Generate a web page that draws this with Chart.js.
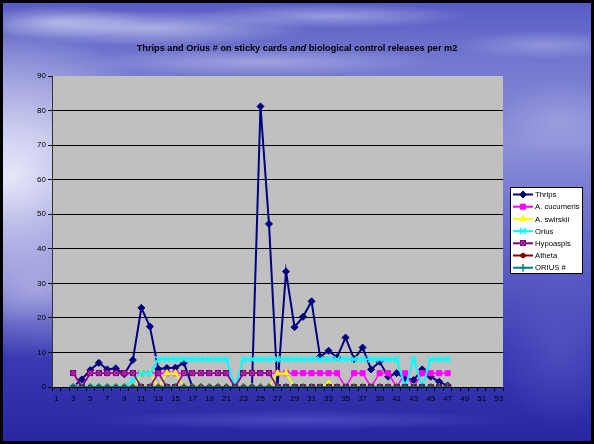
<!DOCTYPE html>
<html>
<head>
<meta charset="utf-8">
<script src="https://cdn.jsdelivr.net/npm/chart.js@4.4.1/dist/chart.umd.min.js"></script>
<style>
  html, body { margin: 0; padding: 0; overflow: hidden; background: #2a2aa0; }
  #wrap { width: 594px; height: 444px; position: relative; }
  canvas { display: block; }
</style>
</head>
<body>
<div id="wrap"><canvas id="c" width="594" height="444"></canvas></div>
<script>
// Week numbers on the category axis
const weeks = ['1','2','3','4','5','6','7','8','9','10','11','12','13','14','15','16','17','18','19','20',
  '21','22','23','24','25','26','27','28','29','30','31','32','33','34','35','36','37','38','39','40',
  '41','42','43','44','45','46','47','48','49','50','51','52','53'];

// Sticky-card counts and releases per m2, one entry per week (null = no record)
const thrips = [null, null, 0, 2.2, 4.9, 7, 5.1, 5.4, 3.7, 7.8, 22.9, 17.5, 5.2, 5.5, 5.6, 7, 0, 0, 0, 0,
  0, 0, 0, 0, 81.2, 47.2, 0, 33.4, 17.3, 20.3, 24.8, 8.8, 10.5, 8.6, 14.3, 8.1, 11.4, 5.1, 7.3, 3,
  4, 2.5, 2, 5.1, 3, 1.5, 0.4, null, null, null, null, null, null];
const cucumeris = [null, null, 4, 0, 4, 4, 4, 4, 4, 4, 4, 4, 4, 4, 4, 4, 4, 4, 4, 4,
  4, 0, 4, 4, 4, 4, 4, 4, 4, 4, 4, 4, 4, 4, 0, 4, 4, 0, 4, 4,
  0, 4, 0, 4, 4, 4, 4, null, null, null, null, null, null];
const swirskii = [null, null, 0, 0, 0, 0, 0, 0, 0, 0, 4, 4, 0, 4, 4, 0, 0, 0, 0, 0,
  0, 0, 0, 0, 0, 0, 4, 4, 0, 0, 0, 0, 1, 0, 0, 0, 0, 0, 0, 0,
  0, 0, 0, 0, 0, 0, 0, null, null, null, null, null, null];
const orius = [null, null, 0, 0, 0, 0, 0, 0, 0, 2, 4, 4, 8, 8, 8, 8, 8, 8, 8, 8,
  8, 0, 8, 8, 8, 8, 8, 8, 8, 8, 8, 8, 8, 8, 8, 8, 8, 8, 8, 8,
  8, 0, 8, 0, 8, 8, 8, null, null, null, null, null, null];
const hypoaspis = [null, null, 4, 0, 4, 4, 4, 4, 4, 4, 0, 0, 4, 0, 0, 4, 4, 4, 4, 4,
  4, 0, 4, 4, 4, 4, 0, 0, 0, 0, 0, 0, 0, 0, 0, 0, 0, 0, 0, 0,
  0, 0, 0, 0, 0, 0, 0, null, null, null, null, null, null];
const atheta = [null, null, 0, 0, 0, 0, 0, 0, 0, 0, 0, 0, 0, 0, 0, 0, 0, 0, 0, 0,
  0, 0, 0, 0, 0, 0, 0, 0, 0, 0, 0, 0, 0, 0, 0, 0, 0, 0, 0, 0,
  0, 0, 0, 0, 0, 0, 0, null, null, null, null, null, null];
const oriusCount = [null, null, 0, 0, 0, 0, 0, 0, 0, 0, 0, 0, 0, 0, 0, 0, 0, 0, 0, 0,
  0, 0, 0, 0, 0, 0, 0, 0, 0, 0, 0, 0, 0, 0, 0, 0, 0, 0, 0, 0,
  0, 0, 0, 0, 0, 0, 0, null, null, null, null, null, null];

const yTicks = [0, 10, 20, 30, 40, 50, 60, 70, 80, 90];
const seriesNames = ['Thrips', 'A. cucumeris', 'A. swirskii', 'Orius', 'Hypoaspis', 'Atheta', 'ORIUS #'];

const FONT = 'Arial, "Liberation Sans", Helvetica, sans-serif';

// Small square-with-cross marker used for Hypoaspis
const hypoMarker = document.createElement('canvas');
hypoMarker.width = 6; hypoMarker.height = 6;
(function () {
  const m = hypoMarker.getContext('2d');
  m.fillStyle = '#c653c6';
  m.fillRect(0, 0, 6, 6);
  m.strokeStyle = '#800080';
  m.lineWidth = 1;
  m.strokeRect(0.5, 0.5, 5, 5);
  m.beginPath();
  m.moveTo(0.5, 0.5); m.lineTo(5.5, 5.5);
  m.moveTo(5.5, 0.5); m.lineTo(0.5, 5.5);
  m.stroke();
})();

function series(label, data, color, style, radius, lineWidth, order, pbw) {
  return {
    label, data, order,
    borderColor: color,
    backgroundColor: color,
    borderWidth: lineWidth,
    pointStyle: style,
    pointRadius: radius,
    pointHoverRadius: radius,
    pointBorderColor: color,
    pointBackgroundColor: color,
    pointBorderWidth: pbw,
    tension: 0,
    spanGaps: false
  };
}

const datasets = [
  series(seriesNames[0], thrips, '#000080', 'rectRot', 3.5, 2, 7, 1),
  series(seriesNames[1], cucumeris, '#ff00ff', 'rect', 3.6, 1.5, 6, 1),
  series(seriesNames[2], swirskii, '#ffff00', 'triangle', 3.6, 1.5, 5, 1),
  series(seriesNames[3], orius, '#00ffff', 'crossRot', 4.2, 2, 4, 1.5),
  series(seriesNames[4], hypoaspis, '#800080', hypoMarker, 3, 1.5, 3, 1),
  series(seriesNames[5], atheta, '#800000', 'circle', 2.3, 1.5, 2, 1),
  series(seriesNames[6], oriusCount, '#008080', 'cross', 3.8, 1.5, 1, 1.5)
];

// Slide backdrop, plot-area fill, frame
const backdrop = {
  id: 'backdrop',
  beforeDraw(chart) {
    const { ctx, width: w, height: h, chartArea: a } = chart;
    ctx.save();
    const g = ctx.createLinearGradient(0, 0, 0, h);
    g.addColorStop(0, '#565bc4');
    g.addColorStop(0.12, '#7074cd');
    g.addColorStop(0.32, '#8d90d8');
    g.addColorStop(0.55, '#6466c9');
    g.addColorStop(0.8, '#3a3ab3');
    g.addColorStop(1, '#2626a2');
    ctx.fillStyle = g;
    ctx.fillRect(0, 0, w, h);

    const glow = (cx, cy, rx, ry, col, alpha) => {
      ctx.save();
      ctx.translate(cx, cy);
      ctx.scale(1, ry / rx);
      const r = ctx.createRadialGradient(0, 0, 0, 0, 0, rx);
      r.addColorStop(0, `rgba(${col},${alpha})`);
      r.addColorStop(1, `rgba(${col},0)`);
      ctx.fillStyle = r;
      ctx.beginPath();
      ctx.arc(0, 0, rx, 0, Math.PI * 2);
      ctx.fill();
      ctx.restore();
    };
    // light haze on the left, cloud streaks across the top
    glow(10, 175, 170, 150, '242,242,253', 0.9);
    glow(40, 290, 120, 70, '215,215,245', 0.5);
    glow(150, 28, 160, 18, '232,232,250', 0.55);
    glow(330, 16, 140, 12, '225,225,250', 0.45);
    glow(260, 62, 180, 14, '225,225,250', 0.4);
    glow(60, 22, 90, 16, '238,238,252', 0.5);
    glow(545, 45, 90, 14, '215,215,248', 0.35);
    glow(560, 120, 60, 40, '200,200,245', 0.3);
    glow(300, 420, 220, 10, '130,130,225', 0.35);
    glow(560, 350, 60, 80, '120,120,215', 0.3);

    ctx.fillStyle = '#c0c0c0';
    ctx.fillRect(a.left, a.top, a.right - a.left, a.bottom - a.top);
    ctx.restore();
  },
  afterDraw(chart) {
    const { ctx, width: w, height: h } = chart;
    ctx.save();
    ctx.strokeStyle = '#000';
    ctx.lineWidth = 3;
    ctx.strokeRect(1.5, 1.5, w - 3, h - 3);
    ctx.restore();
  }
};

// Title with the italic word in the middle
const mixedTitle = {
  id: 'mixedTitle',
  afterDraw(chart) {
    const { ctx } = chart;
    const parts = [
      { t: 'Thrips and Orius # on sticky cards ', f: `bold 9.2px ${FONT}` },
      { t: 'and', f: `italic bold 9.2px ${FONT}` },
      { t: ' biological control releases per m2', f: `bold 9.2px ${FONT}` }
    ];
    ctx.save();
    let total = 0;
    parts.forEach(p => { ctx.font = p.f; p.w = ctx.measureText(p.t).width; total += p.w; });
    let x = 297 - total / 2;
    ctx.fillStyle = '#000';
    ctx.textBaseline = 'middle';
    ctx.textAlign = 'left';
    parts.forEach(p => { ctx.font = p.f; ctx.fillText(p.t, x, 48); x += p.w; });
    ctx.restore();
  }
};

// Boxed legend to the right of the plot
const boxLegend = {
  id: 'boxLegend',
  afterDraw(chart) {
    const { ctx } = chart;
    const bx = 510, by = 187, bw = 73, bh = 87;
    ctx.save();
    ctx.fillStyle = '#fff';
    ctx.fillRect(bx, by, bw, bh);
    ctx.strokeStyle = '#000';
    ctx.lineWidth = 1;
    ctx.strokeRect(bx + 0.5, by + 0.5, bw - 1, bh - 1);
    chart.data.datasets.forEach((ds, i) => {
      const y = by + 7.5 + i * 12.2;
      ctx.strokeStyle = ds.borderColor;
      ctx.lineWidth = 2;
      ctx.beginPath();
      ctx.moveTo(bx + 3, y);
      ctx.lineTo(bx + 23, y);
      ctx.stroke();
      ctx.fillStyle = ds.pointBackgroundColor;
      ctx.strokeStyle = ds.pointBorderColor;
      ctx.lineWidth = ds.pointBorderWidth;
      Chart.helpers.drawPoint(ctx, { pointStyle: ds.pointStyle, radius: ds.pointRadius, borderWidth: ds.pointBorderWidth }, bx + 13, y);
      ctx.fillStyle = '#000';
      ctx.font = `7.7px ${FONT}`;
      ctx.textBaseline = 'middle';
      ctx.textAlign = 'left';
      ctx.fillText(ds.label, bx + 25, y + 0.5);
    });
    ctx.restore();
  }
};

new Chart(document.getElementById('c'), {
  type: 'line',
  data: { labels: weeks, datasets },
  options: {
    responsive: false,
    animation: false,
    devicePixelRatio: 1,
    layout: { padding: { left: 0, right: 91, top: 76, bottom: 0 } },
    plugins: {
      legend: { display: false },
      title: { display: false },
      tooltip: { enabled: false }
    },
    scales: {
      x: {
        type: 'category',
        offset: true,
        grid: { offset: true, drawOnChartArea: false, drawTicks: true, tickLength: 4, color: '#000', tickColor: '#000' },
        border: { display: true, color: '#000', width: 1 },
        ticks: {
          autoSkip: false, maxRotation: 0, minRotation: 0, padding: 3, color: '#000',
          font: { family: FONT, size: 8 },
          callback: (v, i) => (i % 2 === 0 ? weeks[i] : '')
        },
        afterFit: s => { s.height = 57; }
      },
      y: {
        min: yTicks[0],
        max: yTicks[yTicks.length - 1],
        afterBuildTicks: s => { s.ticks = yTicks.map(v => ({ value: v })); },
        ticks: { color: '#000', padding: 2, font: { family: FONT, size: 8 } },
        grid: {
          color: c => (c.tick && c.tick.value > 0 && c.tick.value < 90 ? '#000' : 'rgba(0,0,0,0)'),
          tickColor: '#000', tickLength: 4, lineWidth: 1
        },
        border: { display: true, color: '#333', width: 1 },
        afterFit: s => { s.width = 52; }
      }
    }
  },
  plugins: [backdrop, mixedTitle, boxLegend]
});
</script>
</body>
</html>
